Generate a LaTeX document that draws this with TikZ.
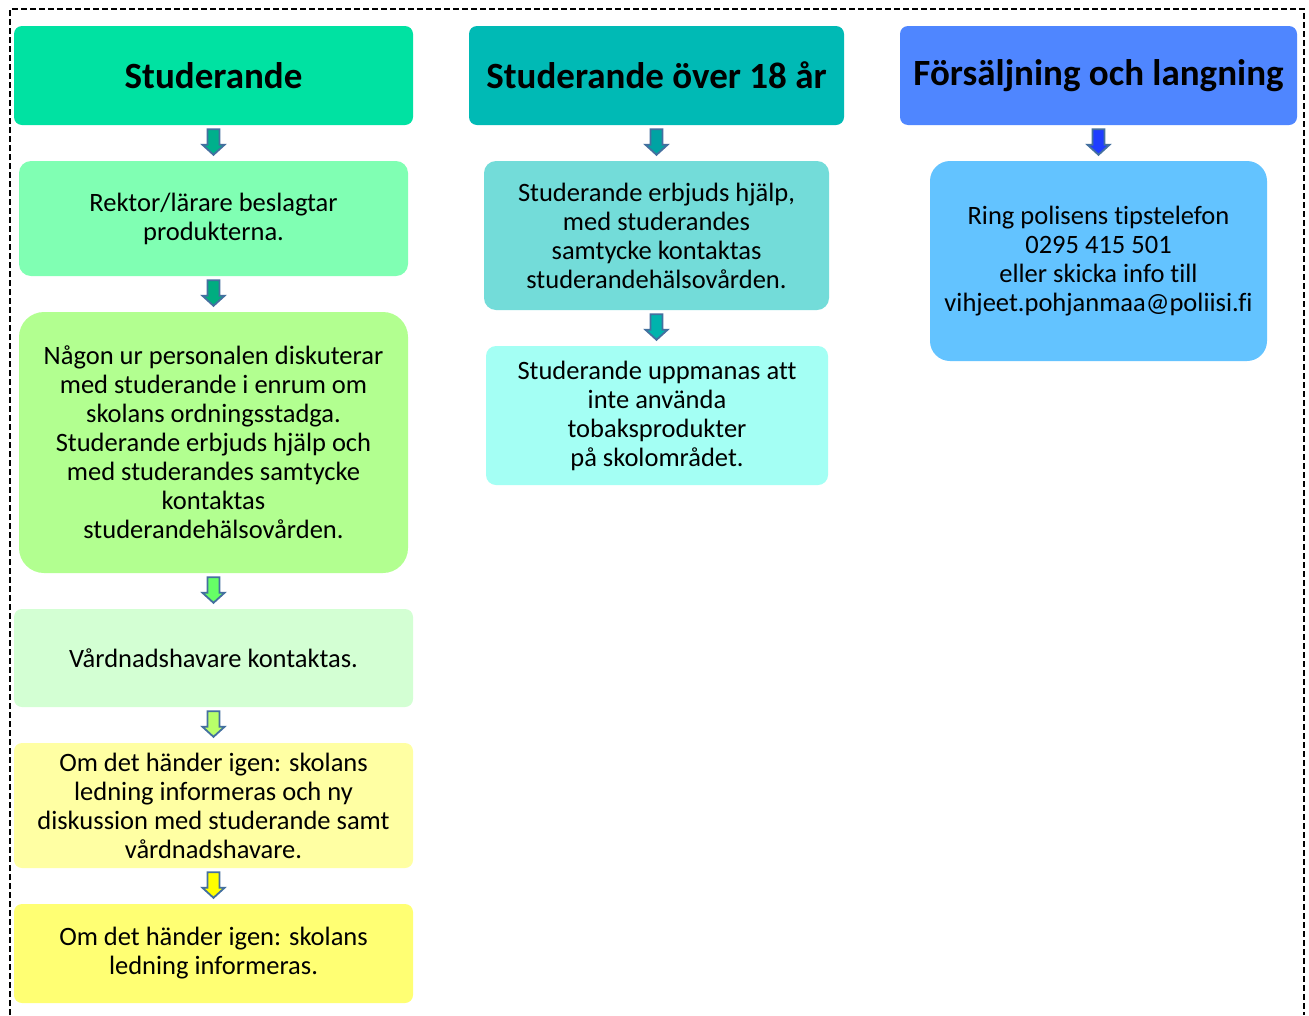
\documentclass[tikz,border=0pt]{standalone}
\usepackage{fontspec}
\setmainfont[Ligatures={NoCommon}]{Carlito}
\usetikzlibrary{calc}
\definecolor{hA}{HTML}{00E2A2}
\definecolor{hB}{HTML}{00BAB5}
\definecolor{hC}{HTML}{4F86FF}
\definecolor{bA}{HTML}{80FFB3}
\definecolor{bB}{HTML}{B2FF90}
\definecolor{bC}{HTML}{D3FFD3}
\definecolor{bD}{HTML}{FFFFA3}
\definecolor{bE}{HTML}{FFFF73}
\definecolor{cA}{HTML}{73DCD9}
\definecolor{cB}{HTML}{A4FFF4}
\definecolor{dA}{HTML}{63C3FF}
\definecolor{aA}{HTML}{00B08C}
\definecolor{aB}{HTML}{00AD80}
\definecolor{aC}{HTML}{66FF66}
\definecolor{aD}{HTML}{B8FF6A}
\definecolor{aE}{HTML}{FFFF00}
\definecolor{aF}{HTML}{00A3A3}
\definecolor{aG}{HTML}{00B3AD}
\definecolor{aH}{HTML}{1F3DFF}
\definecolor{aline}{HTML}{44709F}
\tikzset{
  head/.style={draw=none, rounded corners=8pt, align=center, inner sep=0pt,
    font=\fontsize{37}{42}\selectfont\bfseries},
  box/.style={draw=none, rounded corners=12pt, align=center, inner sep=0pt,
    font=\fontsize{26.5}{29}\selectfont},
  blk/.style={draw=aline, line width=1.8pt, line join=miter},
}
\newcommand\barrow[3]{%
  \path (#1.south) ++(0,-4pt) coordinate (bt) (#1.south |- #2.north) ++(0,6pt) coordinate (bh);
  \draw[blk, fill=#3] ([xshift=-6pt]bt) -- ([xshift=-6pt,yshift=10pt]bh) -- ([xshift=-11pt,yshift=10pt]bh)
    -- (bh) -- ([xshift=11pt,yshift=10pt]bh) -- ([xshift=6pt,yshift=10pt]bh) -- ([xshift=6pt]bt) -- cycle;}
\begin{document}
\begin{tikzpicture}[x=1pt,y=-1pt]
\useasboundingbox[fill=white] (0,0) rectangle (1309,1015);
\draw[line width=1.8pt, dash pattern=on 6pt off 3pt] (10,1015) -- (10,9) -- (1304,9) -- (1304,1015);
% column 1
\node[head, fill=hA, minimum width=399pt, minimum height=99pt] (h1) at (213.5,75.5) {Studerande};
\node[box, fill=bA, minimum width=389pt, minimum height=115pt] (b1) at (213.5,218.5) {Rektor/lärare beslagtar\\produkterna.};
\node[box, fill=bB, rounded corners=25pt, minimum width=389pt, minimum height=261pt] (b2) at (213.5,442.5) {Någon ur personalen diskuterar\\med studerande i enrum om\\skolans ordningsstadga.\\Studerande erbjuds hjälp och\\med studerandes samtycke\\kontaktas\\studerandehälsovården.};
\node[box, fill=bC, rounded corners=8pt, minimum width=399pt, minimum height=98pt] (b3) at (213.5,658) {Vårdnadshavare kontaktas.};
\node[box, fill=bD, rounded corners=8pt, minimum width=399pt, minimum height=125pt] (b4) at (213.5,805.5) {Om det händer igen: skolans\\ledning informeras och ny\\diskussion med studerande samt\\vårdnadshavare.};
\node[box, fill=bE, rounded corners=8pt, minimum width=399pt, minimum height=99pt] (b5) at (213.5,953.5) {Om det händer igen: skolans\\ledning informeras.};
% column 2
\node[head, fill=hB, minimum width=375pt, minimum height=99pt] (h2) at (656.5,75.5) {Studerande över 18 år};
\node[box, fill=cA, minimum width=345pt, minimum height=149pt] (c1) at (656.5,235.5) {Studerande erbjuds hjälp,\\med studerandes\\samtycke kontaktas\\studerandehälsovården.};
\node[box, fill=cB, rounded corners=10pt, minimum width=342pt, minimum height=139pt] (c2) at (657,415.5) {Studerande uppmanas att\\inte använda\\tobaksprodukter\\på skolområdet.};
% column 3
\node[head, fill=hC, minimum width=397pt, minimum height=99pt] (h3) at (1098.5,75.5) {Försäljning och langning};
\node[box, fill=dA, rounded corners=20pt, minimum width=337pt, minimum height=200pt] (d1) at (1098.5,261) {Ring polisens tipstelefon\\0295 415 501\\eller skicka info till\\vihjeet.pohjanmaa@poliisi.fi};
% arrows
\barrow{h1}{b1}{aA}
\barrow{b1}{b2}{aB}
\barrow{b2}{b3}{aC}
\barrow{b3}{b4}{aD}
\barrow{b4}{b5}{aE}
\barrow{h2}{c1}{aF}
\barrow{c1}{c2}{aG}
\barrow{h3}{d1}{aH}
\end{tikzpicture}
\end{document}
